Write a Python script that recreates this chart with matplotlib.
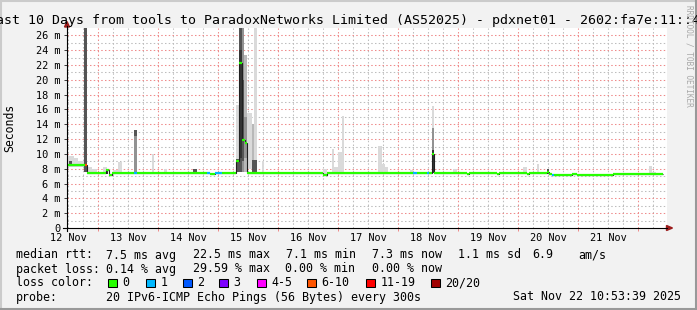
import matplotlib
matplotlib.use('Agg')
import matplotlib.pyplot as plt
import matplotlib.transforms as mtransforms
from matplotlib.lines import Line2D
from matplotlib.patches import Polygon, Rectangle

# median rtt as steps: start hour (after graph start), median ms, pings lost of 20
median_t = [0.0, 7.2, 8.0, 15.6, 16.8, 18.0, 26.8, 28.0, 56.0, 57.2, 59.2, 62.0,
            67.6, 68.8, 70.0, 71.2, 72.0, 102.4, 104.0, 138.4, 140.0, 144.0, 144.8,
            146.0, 146.8, 160.0, 160.8, 172.0, 172.8, 184.0, 184.8, 192.0, 192.8,
            194.0, 194.8, 202.0, 204.0, 218.4]
median_ms = [8.55, 8.55, 7.4, 7.8, 7.2, 7.4, 7.4, 7.4, 7.4, 7.3, 7.4, 7.4,
             9.0, 22.3, 11.9, 11.5, 7.45, 7.2, 7.45, 7.45, 7.45, 7.45, 7.45,
             10.0, 7.45, 7.3, 7.45, 7.3, 7.45, 7.3, 7.45, 7.6, 7.3,
             7.2, 7.1, 7.3, 7.1, 7.3]
median_lost = [0, 7, 0, 0, 0, 0, 1, 0, 1, 0, 1, 0,
               0, 0, 0, 0, 0, 0, 0, 1, 0, 1, 0,
               0, 0, 0, 0, 0, 0, 0, 0, 0, 0,
               1, 0, 0, 0, 0]
data_end = 238.4

# smoke: time span (hours), ping range (ms), density 1 (few pings) .. 5 (many)
smoke_t0 = [0.0, 2.8, 4.4, 0.8, 6.8, 8.0, 10.0, 14.4, 15.6, 18.4, 20.4, 26.8, 26.8,
            34.0, 38.8, 50.4, 54.4,
            67.6, 67.6, 68.8, 68.8, 70.0, 70.0, 70.8, 70.8, 72.0, 74.0, 74.0, 74.8, 74.8,
            78.0, 102.4, 106.0, 106.8, 108.4, 110.0, 124.4, 126.0, 127.2, 137.2,
            146.0, 146.0, 146.0, 154.4, 182.4, 188.0, 192.0, 195.2, 232.8, 234.0]
smoke_t1 = [2.8, 4.4, 6.8, 2.0, 8.0, 10.0, 12.0, 16.0, 16.4, 20.4, 22.0, 28.0, 28.0,
            34.8, 40.0, 52.0, 56.0,
            68.8, 68.8, 70.0, 70.0, 70.8, 70.8, 72.0, 72.0, 74.0, 74.8, 74.8, 76.0, 76.0,
            78.8, 104.0, 106.8, 108.4, 110.0, 110.8, 126.0, 127.2, 128.4, 138.4,
            146.8, 146.8, 146.8, 156.0, 184.0, 188.8, 192.8, 202.0, 234.0, 235.6]
smoke_lo = [8.3, 8.3, 8.3, 8.6, 7.6, 7.3, 7.3, 7.4, 7.3, 7.3, 7.3, 7.3, 12.4,
            7.3, 7.3, 7.5, 7.3,
            7.5, 7.5, 7.5, 9.5, 7.5, 9.0, 7.5, 9.5, 8.0, 7.5, 7.5, 7.5, 7.5,
            7.4, 7.2, 7.4, 7.4, 7.4, 7.4, 7.4, 7.4, 7.4, 7.4,
            13.5, 10.5, 7.4, 7.4, 7.4, 7.4, 7.3, 7.1, 7.3, 7.3]
smoke_hi = [9.7, 9.4, 9.1, 9.0, 27.5, 8.2, 7.9, 8.3, 7.9, 7.8, 8.9, 13.2, 13.2,
            10.0, 7.9, 7.9, 7.6,
            16.6, 9.3, 27.5, 24.0, 27.5, 20.0, 23.4, 15.0, 15.5, 14.0, 9.2, 27.5, 9.2,
            9.1, 7.9, 10.7, 8.2, 10.3, 15.1, 11.1, 8.7, 8.2, 7.8,
            16.5, 13.5, 10.5, 8.0, 8.3, 8.6, 8.0, 7.3, 8.4, 7.6]
smoke_density = [1, 1, 1, 4, 4, 1, 1, 1, 5, 1, 1, 3, 4,
                 1, 1, 4, 1,
                 1, 4, 4, 5, 3, 4, 2, 3, 1, 2, 4, 1, 4,
                 1, 1, 1, 1, 1, 1, 1, 1, 1, 1,
                 1, 3, 5, 1, 1, 1, 4, 1, 1, 1]

day_labels = ['12 Nov', '13 Nov', '14 Nov', '15 Nov', '16 Nov',
              '17 Nov', '18 Nov', '19 Nov', '20 Nov', '21 Nov']
first_midnight = 12.4  # hours after graph start

loss_labels = ['0', '1', '2', '3', '4-5', '6-10', '11-19', '20/20']
loss_upper = [0, 1, 2, 3, 5, 10, 19, 20]
loss_colors = ['#26ff00', '#00b8ff', '#0059ff', '#7e00ff',
               '#ff00ff', '#ff5500', '#ff0000', '#a10000']

median_rtt = [7.5, 22.5, 7.1, 7.3]   # avg, max, min, now
rtt_sd = 1.1
rtt_ams = 6.9
packet_loss = [0.14, 29.59, 0.00, 0.00]

title = 'Last 10 Days from tools to ParadoxNetworks Limited (AS52025) - pdxnet01 - 2602:fa7e:11::4'
probe = '20 IPv6-ICMP Echo Pings (56 Bytes) every 300s'
stamp = 'Sat Nov 22 10:53:39 2025'

W, H = 697, 310
MONO = 'DejaVu Sans Mono'
shade = {1: '#dadada', 2: '#b8b8b8', 3: '#929292', 4: '#555555', 5: '#353535'}
red_grid = '#ef8a8a'
gray_grid = '#bdbdbd'


def fx(x):
    return x / W


def fy(y):
    return 1 - y / H


fig = plt.figure(figsize=(W / 100, H / 100), dpi=100, facecolor='#f2f2f2')
ax = fig.add_axes([fx(67), fy(228), 600 / W, 200 / H])
ax.set_facecolor('white')
ax.set_xlim(0, 240)
ax.set_ylim(0, 27)
for s in ax.spines.values():
    s.set_visible(False)

# grid
for k in range(41):
    h = first_midnight - 12 + 6 * k
    if h > 240:
        break
    c = red_grid if k % 4 == 2 else gray_grid
    ax.axvline(h, color=c, lw=0.75, ls=(0, (1.4, 2.2)), zorder=0)
for v in range(1, 27):
    c = red_grid if v % 2 == 0 else gray_grid
    ax.axhline(v, color=c, lw=0.75, ls=(0, (1.4, 2.2)), zorder=0)

# smoke
order = sorted(range(len(smoke_t0)), key=lambda i: smoke_density[i])
for i in order:
    ax.bar(smoke_t0[i], smoke_hi[i] - smoke_lo[i], width=smoke_t1[i] - smoke_t0[i],
           bottom=smoke_lo[i], align='edge', color=shade[smoke_density[i]],
           linewidth=0, zorder=2)

# median
edges = median_t + [data_end]
ax.stairs(median_ms, edges, baseline=None, color='#202020', lw=0.8, zorder=3)
for i, v in enumerate(median_ms):
    cls = next(j for j, u in enumerate(loss_upper) if median_lost[i] <= u)
    ax.hlines(v, edges[i], edges[i + 1], color=loss_colors[cls], lw=1.6, zorder=4)

# y axis ticks
ax.set_yticks(range(0, 27, 2), ['0'] + ['%d m' % v for v in range(2, 27, 2)])
ax.tick_params(axis='y', length=2.2, width=0.72, color='#404040', pad=2.4,
               labelsize=7.4, labelfontfamily=MONO)
midnights = [first_midnight + 24 * k for k in range(10)]
ax.set_xticks(midnights, [''] * 10)
ax.tick_params(axis='x', length=2.5, width=0.72, color=red_grid)
xtrans = mtransforms.offset_copy(ax.get_xaxis_transform(), fig=fig, y=-13, units='dots')
for k, lbl in enumerate(day_labels):
    ax.text(first_midnight - 12 + 24 * k, 0, lbl, transform=xtrans, ha='center',
            va='baseline', fontsize=7.4, family=MONO)

# axis lines with arrows
tf = fig.transFigure
fig.add_artist(Line2D([fx(67), fx(67)], [fy(231), fy(26)], color='black', lw=0.8, transform=tf))
fig.add_artist(Line2D([fx(63), fx(667)], [fy(228), fy(228)], color='black', lw=0.8, transform=tf))
fig.add_artist(Polygon([[fx(64.5), fy(27)], [fx(69.5), fy(27)], [fx(67), fy(21.5)]],
                       closed=True, color='#9b1b1b', transform=tf))
fig.add_artist(Polygon([[fx(666.5), fy(225.5)], [fx(666.5), fy(230.5)], [fx(672.5), fy(228)]],
                       closed=True, color='#9b1b1b', transform=tf))

# title and labels
fig.text(fx(-11.7), fy(24), title, fontsize=9.5, family=MONO, va='baseline', ha='left')
fig.text(fx(10), fy(127.5), 'Seconds', fontsize=8.3, family=MONO, rotation=90,
         ha='center', va='center')
fig.text(fx(688.5), fy(5), 'RRDTOOL / TOBI OETIKER', fontsize=5.6, family=MONO,
         rotation=270, ha='center', va='top', color='#a8a8a8')

# legend
LS = 8.4


def ltext(x, y, s):
    fig.text(fx(x), fy(y), s, fontsize=LS, family=MONO, va='baseline', ha='left')


ltext(15.5, 258.5, 'median rtt:')
rtt_x = [106.3, 192.6, 286.0, 371.6]
for x, v, tag in zip(rtt_x, median_rtt, ['avg', 'max', 'min', 'now']):
    ltext(x, 258.5, '%.1f ms %s' % (v, tag))
ltext(458.3, 258.5, '%.1f ms sd' % rtt_sd)
ltext(532.0, 258.5, '%.1f' % rtt_ams)
ltext(578.6, 258.5, 'am/s')

ltext(15.5, 272.5, 'packet loss:')
loss_x = [106.3, 192.6, 285.3, 371.6]
for x, v, tag in zip(loss_x, packet_loss, ['avg', 'max', 'min', 'now']):
    ltext(x, 272.5, '%.2f %% %s' % (v, tag))

ltext(15.5, 286.5, 'loss color:')
sw_x = [108, 146, 183, 219, 257, 307, 366, 431]
for x, lbl, c in zip(sw_x, loss_labels, loss_colors):
    fig.add_artist(Rectangle((fx(x), fy(287)), 8.5 / W, 8.5 / H, facecolor=c,
                             edgecolor='black', lw=0.75, transform=tf))
    ltext(x + 14.3, 286.5, lbl)

ltext(15.5, 300.5, 'probe:')
ltext(106.3, 300.5, probe)
ltext(512.6, 300.5, stamp)

# frame shading
fig.add_artist(Line2D([0, 1], [fy(0.8), fy(0.8)], color='#cbcbcb', lw=1.5, transform=tf))
fig.add_artist(Line2D([fx(0.8), fx(0.8)], [0, 1], color='#cbcbcb', lw=1.5, transform=tf))
fig.add_artist(Line2D([0, 1], [fy(309), fy(309)], color='#999999', lw=1.5, transform=tf))
fig.add_artist(Line2D([fx(696), fx(696)], [0, 1], color='#999999', lw=1.5, transform=tf))

fig.savefig('out.png', dpi=100, facecolor=fig.get_facecolor())
